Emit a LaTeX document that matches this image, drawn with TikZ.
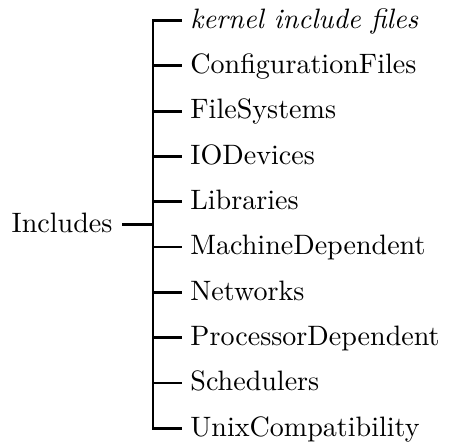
\documentclass[tikz,border=0pt]{standalone}
\usetikzlibrary{positioning,calc}
\begin{document}
\begin{tikzpicture}[node distance=16.15pt, line width=1pt,
  leaf/.style={anchor=west, inner sep=2.5pt, text height=7pt, text depth=1.5pt},
  root/.style={inner sep=3pt, text height=7pt, text depth=1.5pt}]
\useasboundingbox (0,0) rectangle (160pt,-159.3pt);
\node[leaf] (kernel) at (64.85pt,-7.3pt) {\itshape kernel include files};
\node[below=of kernel.west, leaf] (config) {ConfigurationFiles};
\node[below=of config.west, leaf] (files) {FileSystems};
\node[below=of files.west, leaf] (io) {IODevices};
\node[below=of io.west, leaf] (libs) {Libraries};
\node[below=of libs.west, leaf] (machine) {MachineDependent};
\node[below=of machine.west, leaf] (net) {Networks};
\node[below=of net.west, leaf] (proc) {ProcessorDependent};
\node[below=of proc.west, leaf] (sched) {Schedulers};
\node[below=of sched.west, leaf] (unix) {UnixCompatibility};
\coordinate (joint) at ($(libs.west)!0.5!(machine.west)+(-10.3pt,0)$);
\node[root, left=11pt of joint] (includes) {Includes};
\draw (kernel.west) -| (joint) |- (unix.west);
\draw (joint |- config.west) -- (config.west);
\draw (joint |- files.west) -- (files.west);
\draw (joint |- io.west) -- (io.west);
\draw (joint |- libs.west) -- (libs.west);
\draw (joint |- machine.west) -- (machine.west);
\draw (joint |- net.west) -- (net.west);
\draw (joint |- proc.west) -- (proc.west);
\draw (joint |- sched.west) -- (sched.west);
\draw (includes) -- (joint);
\end{tikzpicture}
\end{document}
